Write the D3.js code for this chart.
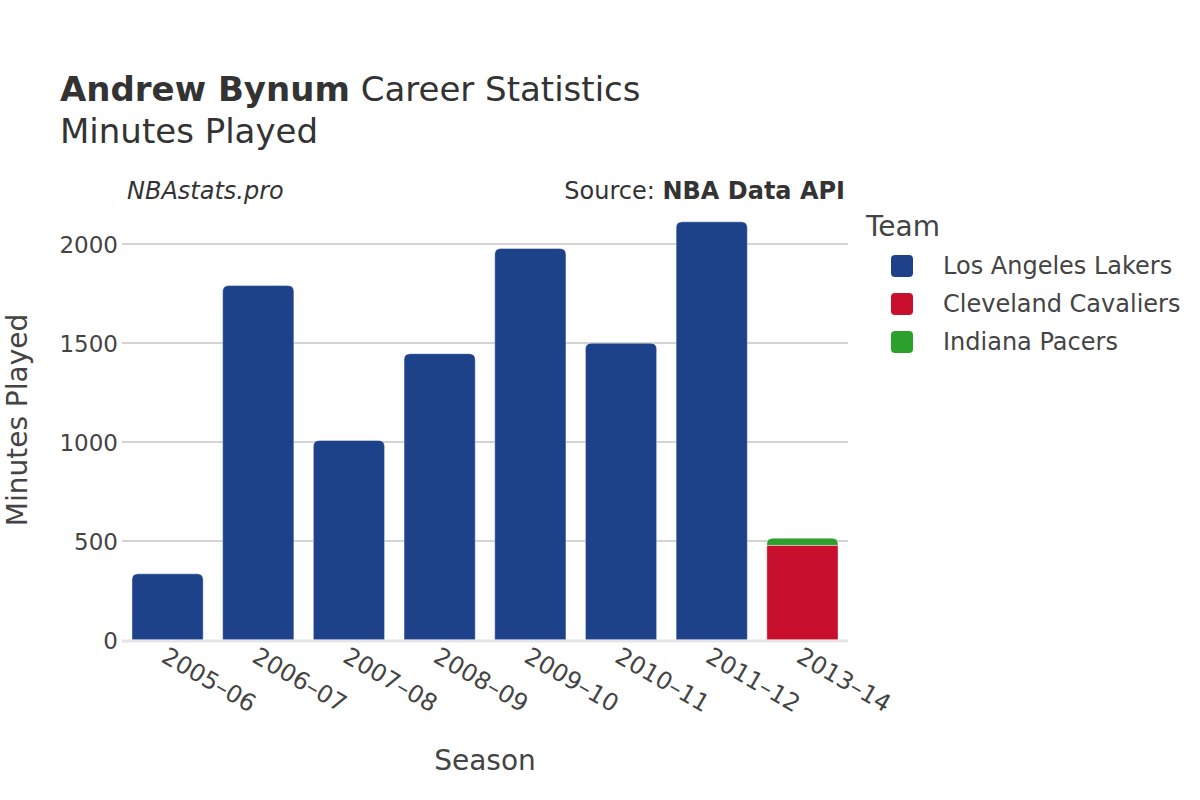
<!DOCTYPE html>
<html lang="en">
<head>
<meta charset="utf-8">
<title>Andrew Bynum Minutes Played</title>
<script src="https://cdn.jsdelivr.net/npm/d3@7"></script>
<style>
  body { margin: 0; background: #fff; }
  text { font-family: "DejaVu Sans", sans-serif; fill: #444; }
  .tick text { font-size: 23px; fill: #444; }
  .xaxis .tick text { font-size: 24px; }
</style>
</head>
<body>
<script>
// chart data
var seasons = ["2005-06", "2006-07", "2007-08", "2008-09", "2009-10", "2010-11", "2011-12", "2013-14"];
var teams = ["Los Angeles Lakers", "Cleveland Cavaliers", "Indiana Pacers"];
var teamColors = ["#1d428a", "#c8102e", "#2ca02c"];
var lakersMin = [334, 1790, 1008, 1446, 1977, 1499, 2112, 0];
var cavsMin = [0, 0, 0, 0, 0, 0, 0, 478];
var pacersMin = [0, 0, 0, 0, 0, 0, 0, 36];
var yTicks = [0, 500, 1000, 1500, 2000];

var width = 1200, height = 800;
var left = 122, right = 848, bottom = 640;
var cornerR = 6;

var rows = seasons.map(function(s, i) {
  return {season: s, "Los Angeles Lakers": lakersMin[i], "Cleveland Cavaliers": cavsMin[i], "Indiana Pacers": pacersMin[i]};
});

var svg = d3.select("body").append("svg")
  .attr("width", width)
  .attr("height", height);

var x = d3.scaleBand()
  .domain(seasons)
  .range([left, right])
  .paddingInner(0.215)
  .paddingOuter(0.11);

var y = d3.scaleLinear()
  .domain([0, 2000])
  .range([bottom, 244]);

var color = d3.scaleOrdinal().domain(teams).range(teamColors);

// gridlines
svg.append("g").selectAll("line")
  .data(yTicks.filter(function(d) { return d > 0; }))
  .enter().append("line")
  .attr("x1", left).attr("x2", right)
  .attr("y1", function(d) { return y(d); })
  .attr("y2", function(d) { return y(d); })
  .attr("stroke", "#a8a8a8")
  .attr("stroke-width", 1);

// stacked bars
var series = d3.stack().keys(teams)(rows);

// top segment of each season gets the rounded corners
var topKey = {};
rows.forEach(function(r) {
  teams.forEach(function(t) { if (r[t] > 0) topKey[r.season] = t; });
});

function barPath(x0, w, y0, y1, rounded) {
  var h = y0 - y1;
  if (!rounded) return "M" + x0 + "," + y0 + "V" + y1 + "H" + (x0 + w) + "V" + y0 + "Z";
  var r = Math.min(cornerR, h, w / 2);
  return "M" + x0 + "," + y0 +
    "V" + (y1 + r) +
    "Q" + x0 + "," + y1 + " " + (x0 + r) + "," + y1 +
    "H" + (x0 + w - r) +
    "Q" + (x0 + w) + "," + y1 + " " + (x0 + w) + "," + (y1 + r) +
    "V" + y0 + "Z";
}

svg.append("g").selectAll("g")
  .data(series)
  .enter().append("g")
  .attr("fill", function(d) { return color(d.key); })
  .each(function(s) {
    d3.select(this).selectAll("path")
      .data(s.filter(function(d) { return d[1] - d[0] > 0; }))
      .enter().append("path")
      .attr("d", function(d) {
        return barPath(x(d.data.season), x.bandwidth(), y(d[0]), y(d[1]), topKey[d.data.season] === s.key);
      })
      .attr("stroke", "#ffffff")
      .attr("stroke-opacity", 0.5)
      .attr("stroke-width", 0.8);
  });

// zero line
svg.append("line")
  .attr("x1", left).attr("x2", right)
  .attr("y1", y(0) + 1).attr("y2", y(0) + 1)
  .attr("stroke", "#e6e6e6")
  .attr("stroke-width", 3);

// y axis
var yAxis = svg.append("g")
  .attr("transform", "translate(" + left + ",0)")
  .call(d3.axisLeft(y).tickValues(yTicks).tickSize(0).tickPadding(4).tickFormat(d3.format("d")));
yAxis.select(".domain").remove();
yAxis.selectAll(".tick text").attr("dy", "0.35em");

// x axis
var xAxis = svg.append("g")
  .attr("class", "xaxis")
  .attr("transform", "translate(0," + bottom + ")")
  .call(d3.axisBottom(x).tickSize(0).tickFormat(function(d) { return d.replace("-", "\u2013"); }));
xAxis.select(".domain").remove();
xAxis.selectAll(".tick text")
  .attr("text-anchor", "start")
  .attr("x", 4)
  .attr("y", 22)
  .attr("dy", "0")
  .attr("transform", "rotate(30)");

// titles
var title = svg.append("text").attr("x", 60).attr("y", 101).style("font-size", "34px").style("fill", "#333");
title.append("tspan").style("font-weight", "bold").style("fill", "#333").text("Andrew Bynum");
title.append("tspan").text(" Career Statistics").style("fill", "#333");
svg.append("text").attr("x", 60).attr("y", 143).style("font-size", "34px").style("fill", "#333").text("Minutes Played");

svg.append("text").attr("x", 127).attr("y", 199)
  .style("font-size", "24px").style("font-style", "italic").style("fill", "#333")
  .text("NBAstats.pro");
var src = svg.append("text").attr("x", 845).attr("y", 199)
  .attr("text-anchor", "end").style("font-size", "24px").style("fill", "#333");
src.append("tspan").style("fill", "#333").text("Source: ");
src.append("tspan").style("font-weight", "bold").style("fill", "#333").text("NBA Data API");

svg.append("text")
  .attr("transform", "translate(27,420) rotate(-90)")
  .attr("text-anchor", "middle")
  .style("font-size", "28px")
  .text("Minutes Played");

svg.append("text")
  .attr("x", (left + right) / 2)
  .attr("y", 770)
  .attr("text-anchor", "middle")
  .style("font-size", "28px")
  .text("Season");

// legend
var legend = svg.append("g").attr("transform", "translate(866,0)");
legend.append("text").attr("x", 0).attr("y", 236).style("font-size", "28px").text("Team");
var items = legend.selectAll("g.item")
  .data(teams)
  .enter().append("g")
  .attr("class", "item")
  .attr("transform", function(d, i) { return "translate(0," + (266 + i * 38) + ")"; });
items.append("rect")
  .attr("x", 25).attr("y", -11)
  .attr("width", 22).attr("height", 22)
  .attr("rx", 4)
  .attr("fill", function(d) { return color(d); });
items.append("text")
  .attr("x", 77).attr("y", 0).attr("dy", "0.35em")
  .style("font-size", "24px")
  .text(function(d) { return d; });
</script>
</body>
</html>
